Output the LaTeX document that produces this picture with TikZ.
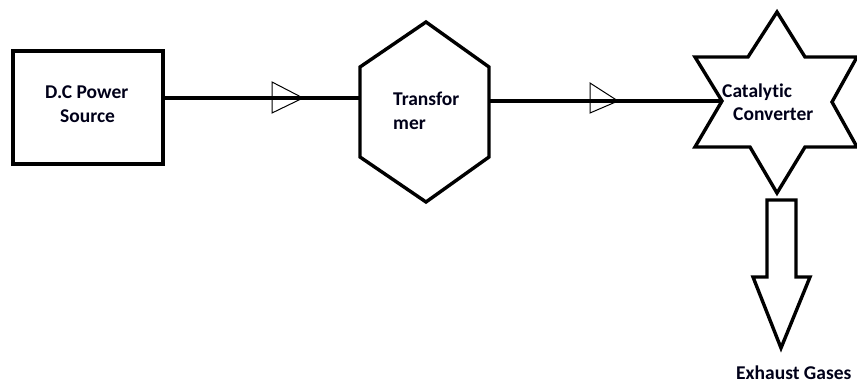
\documentclass[tikz,border=0pt]{standalone}
\usepackage{fontspec}
\setmainfont{Carlito}[Ligatures={NoCommon}]
\begin{document}
\begin{tikzpicture}[x=1pt,y=-1pt,
  thickline/.style={line width=3.4pt,line join=miter,black},
  flowtip/.style={line width=1pt,black},
  lbl/.style={anchor=base west,inner sep=0pt,text=black!90!blue,
    font=\bfseries\fontsize{19.5}{23}\selectfont}]
\useasboundingbox[fill=white] (0,0) rectangle (857,383);

% power source box
\node[draw,line width=3.4pt,minimum width=150pt,minimum height=113pt,inner sep=0pt]
  (dc) at (88,107.5) {};
\node[lbl] (dcA) at (45,98) {D.C Power};
\node[lbl] (dcB) at (60,122) {Source};

% transformer hexagon
\coordinate (hT) at (426,22);
\coordinate (hUR) at (489,67);
\coordinate (hLR) at (489,157);
\coordinate (hB) at (426,202);
\coordinate (hLL) at (360,157);
\coordinate (hUL) at (360,67);
\coordinate (hIn) at (360,98);
\coordinate (hOut) at (489,101);
\draw[thickline] (hT) -- (hUR) -- (hLR) -- (hB) -- (hLL) -- (hUL) -- cycle;
\node[lbl] (trA) at (393,105) {Transfor};
\node[lbl] (trB) at (393,129) {mer};

% catalytic converter star
\coordinate (sT) at (777,12);
\coordinate (sIUR) at (805,57);
\coordinate (sOUR) at (857,57);
\coordinate (sIR) at (832,102);
\coordinate (sOLR) at (857,147);
\coordinate (sILR) at (805,147);
\coordinate (sB) at (777,193);
\coordinate (sILL) at (750,147);
\coordinate (sOLL) at (695,147);
\coordinate (sIL) at (722,101);
\coordinate (sOUL) at (695,57);
\coordinate (sIUL) at (748,57);
\draw[thickline] (sT) -- (sIUR) -- (sOUR) -- (sIR) -- (sOLR) -- (sILR) -- (sB)
  -- (sILL) -- (sOLL) -- (sIL) -- (sOUL) -- (sIUL) -- cycle;
\node[lbl] (caA) at (722,97) {Catalytic};
\node[lbl] (caB) at (733,120) {Converter};

% connectors
\draw[thickline] (dc.east |- 0,98) -- (hIn);
\draw[thickline] (hOut) -- (sIL);

% open flow markers on the connectors
\coordinate (m1) at (303,98);
\coordinate (m2) at (618,101);
\draw[flowtip] (m1) -- ++(-31,-16) -- ++(0,31) -- cycle;
\draw[flowtip] (m2) -- ++(-28,-18) -- ++(0,30) -- cycle;

% exhaust block arrow
\draw[thickline] (767,200) -- (796,200) -- (796,277) -- (810,277) -- (781,348)
  -- (753,277) -- (767,277) -- cycle;
\node[lbl] (ex) at (736,379) {Exhaust Gases};
\end{tikzpicture}
\end{document}
